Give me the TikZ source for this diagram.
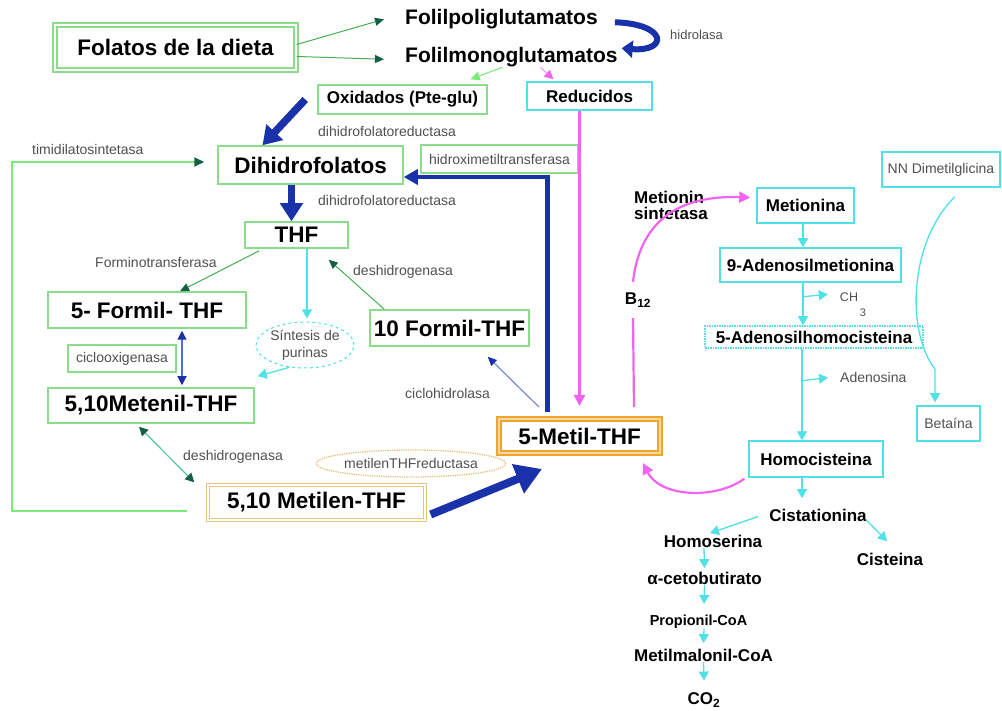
\documentclass[tikz,border=0pt]{standalone}
\usepackage{fontspec}
\setmainfont{Liberation Sans}
\usetikzlibrary{arrows.meta,calc,shapes.geometric}
\definecolor{gbox}{RGB}{140,220,140}
\definecolor{garr}{RGB}{70,175,80}
\definecolor{ghead}{RGB}{20,95,70}
\definecolor{lgreen}{RGB}{120,235,120}
\definecolor{cyanc}{RGB}{80,225,230}
\definecolor{pinkc}{RGB}{240,100,240}
\definecolor{blueD}{RGB}{25,50,170}
\definecolor{blueL}{RGB}{80,110,220}
\definecolor{slateb}{RGB}{120,140,210}
\definecolor{orangeB}{RGB}{240,165,45}
\definecolor{tanB}{RGB}{232,195,125}
\definecolor{greyT}{RGB}{80,80,80}
\definecolor{tealL}{RGB}{80,200,160}
\begin{document}
\begin{tikzpicture}[x=1pt,y=-1pt,
  bigt/.style={font=\bfseries\fontsize{22.5}{26}\selectfont},
  medt/.style={font=\bfseries\fontsize{17}{16}\selectfont},
  smallt/.style={font=\fontsize{14}{17}\selectfont, text=greyT},
  txt/.style={inner sep=0},
  gboxs/.style={draw=gbox, line width=1.5, inner sep=0},
  gboxd/.style={draw=gbox, line width=1.5, double=white, double distance=2.5, inner sep=0},
  cboxs/.style={draw=cyanc, line width=1.5, inner sep=0},
  oboxd/.style={draw=orangeB, line width=2, double=orangeB!45, double distance=1.5, inner sep=0},
  tboxd/.style={draw=tanB, line width=1.3, double=white, double distance=1.5, inner sep=0},
  garrow/.style={draw=garr, line width=1, -{Triangle[length=9pt,width=8pt,color=ghead]}},
  lgarrow/.style={draw=lgreen, line width=1, -{Triangle[length=9pt,width=9pt]}},
  tgline/.style={draw=lgreen, line width=2, -{Triangle[length=10pt,width=9pt,color=ghead]}},
  cyarrow/.style={draw=cyanc, line width=1.3, -{Triangle[length=9pt,width=10pt]}},
  pinkarrow/.style={draw=pinkc, line width=2.2, -{Triangle[length=11pt,width=11pt]}},
  pinkline/.style={draw=pinkc, line width=2.2},
  pinkthin/.style={draw=pinkc!70, line width=1, -{Triangle[length=9pt,width=9pt,color=pinkc]}},
  bigblue/.style={draw=blueD, line width=7.5, -{Triangle[length=18pt,width=22pt]}},
  hugeblue/.style={draw=blueD, line width=8, -{Triangle[length=26pt,width=30pt]}},
  bluepath/.style={draw=blueD, line width=4.5, -{Triangle[length=14pt,width=15pt]}},
  hidro/.style={draw=blueD, line width=6, -{Triangle[length=11pt,width=17pt]}},
  bluedbl/.style={draw=blueL, line width=1.2, {Triangle[length=9pt,width=9pt,color=blueD]}-{Triangle[length=9pt,width=9pt,color=blueD]}},
  tealdbl/.style={draw=tealL, line width=1.2, {Triangle[length=9pt,width=9pt,color=ghead]}-{Triangle[length=9pt,width=9pt,color=ghead]}},
  ciclarrow/.style={draw=slateb, line width=1.2, -{Triangle[length=9pt,width=8pt,color=blueD]}}
]
\useasboundingbox (0,0) rectangle (1002,711);
\fill[white] (0,0) rectangle (1002,711);

% ---------- boxes left / centre
\node[gboxd, minimum width=241, minimum height=45, bigt] (folatos) at (175.5,47.5) {Folatos de la dieta};
\node[txt, anchor=mid west, font=\bfseries\fontsize{21}{24}\selectfont] (folilpoli) at (405,22) {Folilpoliglutamatos};
\node[txt, anchor=mid west, font=\bfseries\fontsize{21}{24}\selectfont] (folilmono) at (405,60) {Folilmonoglutamatos};
\node[txt, anchor=mid west, smallt, font=\fontsize{13}{15}\selectfont] (lhidro) at (670,37) {hidrolasa};
\node[gboxs, minimum width=169, minimum height=29, medt] (oxid) at (402.5,99.5) {Oxidados (Pte-glu)};
\node[cboxs, minimum width=125, minimum height=28, medt] (reduc) at (589.5,96) {Reducidos};
\node[gboxs, minimum width=185, minimum height=38, bigt] (dihidro) at (310.5,165) {Dihidrofolatos};
\node[gboxs, minimum width=157, minimum height=28, smallt] (hidroxi) at (499.5,159) {hidroximetiltransferasa};
\node[txt, anchor=mid west, smallt] (ldfr1) at (318,134) {dihidrofolatoreductasa};
\node[txt, anchor=mid west, smallt] (ldfr2) at (318,203) {dihidrofolatoreductasa};
\node[txt, anchor=mid west, smallt] (ltimi) at (32,152) {timidilatosintetasa};
\node[gboxs, minimum width=103, minimum height=26, bigt] (thf) at (296.5,235) {THF};
\node[txt, anchor=mid west, smallt] (lformino) at (95,265) {Forminotransferasa};
\node[txt, anchor=mid west, smallt] (ldesh1) at (353,273) {deshidrogenasa};
\node[gboxs, minimum width=198, minimum height=36, bigt] (formil5) at (147,310) {5- Formil- THF};
\node[gboxs, minimum width=108, minimum height=27, smallt] (ciclo) at (122,358.5) {ciclooxigenasa};
\node[ellipse, draw=cyanc, dashed, line width=1, minimum width=96, minimum height=46, inner sep=0, smallt, align=center] (sintesis) at (305,345) {Síntesis de\\purinas};
\node[gboxs, minimum width=159, minimum height=36, bigt] (formil10) at (449.5,328) {10 Formil-THF};
\node[gboxs, minimum width=206, minimum height=35, bigt] (metenil) at (151,405.5) {5,10Metenil-THF};
\node[txt, anchor=mid west, smallt] (lciclohid) at (405,396) {ciclohidrolasa};
\node[txt, anchor=mid west, smallt] (ldesh2) at (183,458) {deshidrogenasa};
\node[oboxd, minimum width=161, minimum height=34, bigt] (metil5) at (579.5,436) {5-Metil-THF};
\node[ellipse, draw=tanB, densely dotted, line width=1.3, minimum width=158, minimum height=27, inner sep=0, smallt] (reductasa) at (411,463.5) {metilenTHFreductasa};
\node[tboxd, minimum width=217, minimum height=35, bigt] (metilen) at (316.5,502.5) {5,10 Metilen-THF};

% ---------- right side
\node[txt, anchor=west, medt, align=left] (mss) at (634,205) {Metionin\\sintetasa};
\node[inner sep=0, minimum height=36, medt] (b12) at (638,300) {B\textsubscript{12}};
\node[cboxs, minimum width=97, minimum height=35, medt] (metionina) at (805.5,205.5) {Metionina};
\node[cboxs, minimum width=181, minimum height=34, medt] (sam) at (810.5,265) {9-Adenosilmetionina};
\node[txt, anchor=mid, smallt, font=\fontsize{12.5}{14}\selectfont] (ch) at (849,299) {CH};
\node[txt, anchor=mid, smallt, font=\fontsize{11}{13}\selectfont] (ch3) at (863,314) {3};
\node[cboxs, densely dotted, minimum width=218, minimum height=22, medt] (sah) at (814,337) {5-Adenosilhomocisteina};
\node[txt, anchor=mid west, smallt] (adenosina) at (840,380) {Adenosina};
\node[cboxs, minimum width=134, minimum height=36, medt] (homocis) at (816,459) {Homocisteina};
\node[cboxs, minimum width=118, minimum height=35, smallt] (nndm) at (941,169.5) {NN Dimetilglicina};
\node[cboxs, minimum width=63, minimum height=35, smallt] (betaina) at (948.5,423.5) {Betaína};
\node[txt, anchor=mid, medt] (cista) at (818,519) {Cistationina};
\node[txt, anchor=mid, medt] (homoserina) at (713,545) {Homoserina};
\node[txt, anchor=mid, medt] (cisteina) at (890,563) {Cisteina};
\node[txt, anchor=mid, medt] (aceto) at (704.5,582) {α-cetobutirato};
\node[txt, anchor=mid, font=\bfseries\fontsize{14.5}{16}\selectfont] (propionil) at (698.5,623) {Propionil-CoA};
\node[txt, anchor=mid, medt] (metilmal) at (703.5,659) {Metilmalonil-CoA};
\node[txt, anchor=mid, medt] (co2) at (704,702) {CO\textsubscript{2}};

% ---------- connectors
\draw[garrow] ($(folatos.east)+(0,-3)$) -- ($(folilpoli.west)+(-21,0)$);
\draw[garrow] ($(folatos.east)+(0,9)$) -- ($(folilmono.west)+(-21,2)$);
\draw[hidro] ($(folilpoli.east)+(17,3)$) .. controls (668,24) and (668,52) .. ($(folilmono.east)+(4,-9)$);
\draw[lgarrow] ($(folilmono.south)+(-9,0)$) -- ($(oxid.north east)+(-17,-5)$);
\draw[pinkthin] ($(folilmono.south)+(29,0)$) -- ($(reduc.north)+(-36,-2)$);
\draw[pinkarrow] (reduc.south -| metil5.north) -- ($(metil5.north)+(0,-12)$);
\draw[bigblue] ($(oxid.west)+(-12,0)$) -- ($(dihidro.north)+(-48,0)$);
\draw[bigblue] ($(dihidro.south)+(-19,0)$) -- ($(thf.north)+(-5,0)$);
\draw[bluepath] ($(metil5.north)+(-32,-6)$) |- ($(dihidro.east)+(0,12)$);
\draw[tgline] ($(metilen.west)+(-20,8.5)$) -- ++(-175,0) |- ($(dihidro.west)+(-13,-3)$);
\draw[garrow] ($(thf.south west)+(15,2)$) -- ($(formil5.north)+(33,0)$);
\draw[cyarrow] ($(thf.south)+(10.5,0)$) -- ($(sintesis.north)+(2,-3)$);
\draw[garrow] ($(formil10.north west)+(15,0)$) -- ($(thf.south east)+(-20,11)$);
\draw[bluedbl] ($(formil5.south)+(35,2)$) -- ($(metenil.north)+(31,-2)$);
\draw[cyarrow] (sintesis.235) -- ($(metenil.north east)+(3,-11)$);
\draw[tealdbl] ($(metenil.south)+(-12,3)$) -- ($(metilen.north west)+(-13,-2)$);
\draw[ciclarrow] ($(metil5.north west)+(41,-11)$) -- ($(formil10.south east)+(-42,10)$);
\draw[hugeblue] ($(metilen.east)+(5,12)$) -- ($(metil5.south west)+(44,15)$);
\draw[pinkarrow] ($(homocis.south west)+(-4,1)$) .. controls (715,500) and (660,497) .. ($(metil5.south east)+(-18,9)$);
\draw[pinkline] ($(metil5.north east)+(-27,-11)$) -- ($(b12.south)+(-5,0)$);
\draw[pinkarrow] ($(b12.north)+(-5,0)$) .. controls (640,220) and (680,195) .. ($(metionina.west)+(-6,-8)$);

\draw[cyarrow] ($(metionina.south)+(-2.5,0)$) -- ($(sam.north)+(-7.5,0)$);
\draw[cyarrow] ($(sam.south)+(-7.5,0)$) -- ($(sah.north)+(-11,0)$);
\draw[cyarrow] ($(sam.south)+(-7.5,14)$) -- ($(ch.west)+(-12,-3)$);
\draw[cyarrow] ($(sah.south)+(-12,0)$) -- ($(homocis.north)+(-14,0)$);
\draw[cyarrow] ($(sah.south)+(-12,32)$) -- ($(adenosina.west)+(-12,0)$);
\draw[cyarrow] ($(nndm.south)+(14,9)$) .. controls (910,240) and (905,330) .. ($(betaina.north)+(-13.5,-36)$) -- ($(betaina.north)+(-13.5,-3)$);
\draw[cyarrow] ($(homocis.south)+(-14,0)$) -- ($(cista.north)+(-16,-11)$);
\draw[cyarrow] ($(cista.west)+(-11,1)$) -- ($(homoserina.north)+(-3,-2)$);
\draw[cyarrow] ($(cista.east)+(-1,4)$) -- ($(cisteina.north)+(-3,-12)$);
\draw[cyarrow] ($(homoserina.south)+(-9,0)$) -- ($(aceto.north)+(0,-4)$);
\draw[cyarrow] (aceto.south) -- ($(propionil.north)+(5.5,-11)$);
\draw[cyarrow] ($(propionil.south)+(5.5,0)$) -- ($(metilmal.north)+(0,-6)$);
\draw[cyarrow] (metilmal.south) -- ($(co2.north)+(0,-12)$);
\end{tikzpicture}
\end{document}
